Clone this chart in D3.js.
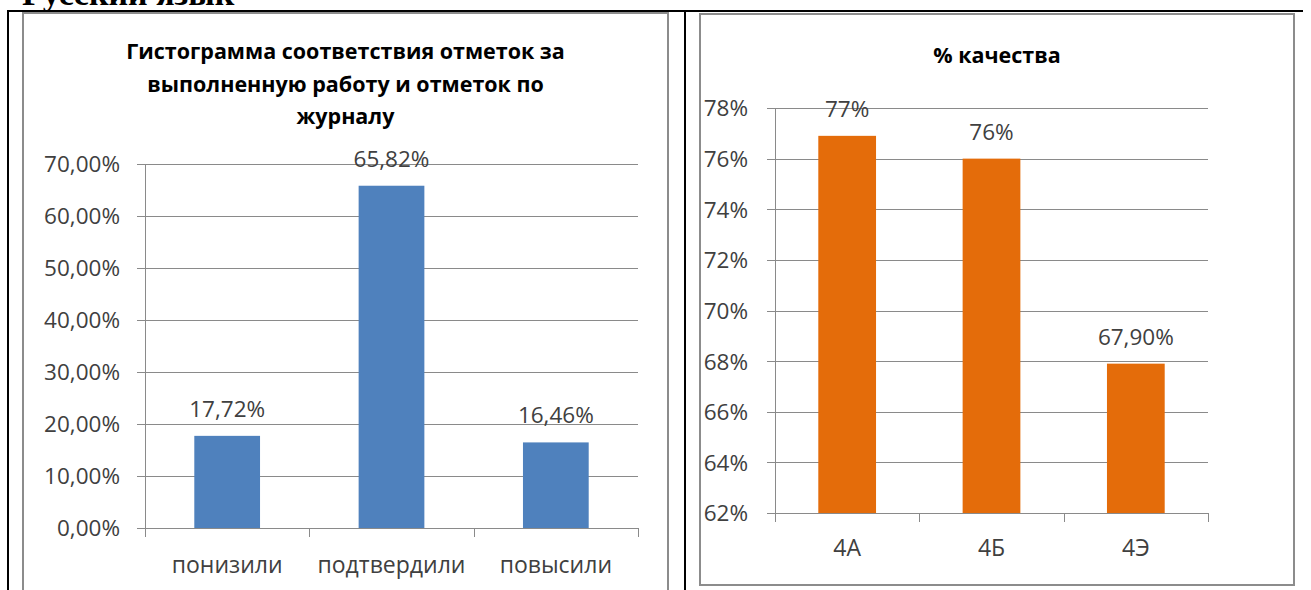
<!DOCTYPE html>
<html>
<head>
<meta charset="utf-8">
<script src="https://cdn.jsdelivr.net/npm/d3@7"></script>
<style>
  body { margin: 0; background: #fff; }
  svg { display: block; }
  .tick-label, .cat-label, .data-label { font-family: "Open Sans", sans-serif; font-size: 22.5px; fill: #404040; }
  .cat-label { font-size: 23px; }
  .chart-title { font-family: "Open Sans", sans-serif; font-size: 21.5px; font-weight: bold; fill: #000; }
  .page-title { font-family: "Liberation Serif", serif; font-size: 34px; font-weight: bold; fill: #000; }
</style>
</head>
<body>
<script>
"use strict";

// left chart
var leftTitle = ["Гистограмма соответствия отметок за", "выполненную работу и отметок по", "журналу"];
var leftCategories = ["понизили", "подтвердили", "повысили"];
var leftValues = [0.1772, 0.6582, 0.1646];
var leftTicks = [0, 0.1, 0.2, 0.3, 0.4, 0.5, 0.6, 0.7];

// right chart
var rightTitle = ["% качества"];
var rightCategories = ["4А", "4Б", "4Э"];
var rightValues = [0.769, 0.76, 0.679];
var rightLabels = ["77%", "76%", "67,90%"];
var rightTicks = [0.62, 0.64, 0.66, 0.68, 0.70, 0.72, 0.74, 0.76, 0.78];

var ru = d3.formatLocale({decimal: ",", thousands: " ", grouping: [3], currency: ["", " ₽"]});

var svg = d3.select("body").append("svg")
  .attr("width", 1311)
  .attr("height", 590);

svg.append("rect").attr("width", 1311).attr("height", 590).attr("fill", "#fff");

// heading, cut by the top edge as in the scan
svg.append("text")
  .classed("page-title", true)
  .attr("x", 22)
  .attr("y", 5)
  .text("Русский язык");

// table borders
svg.append("line").attr("x1", 7).attr("x2", 1303).attr("y1", 11).attr("y2", 11)
  .attr("stroke", "#000").attr("stroke-width", 2);
svg.append("line").attr("x1", 8).attr("x2", 8).attr("y1", 10).attr("y2", 590)
  .attr("stroke", "#000").attr("stroke-width", 2);
svg.append("line").attr("x1", 685).attr("x2", 685).attr("y1", 10).attr("y2", 590)
  .attr("stroke", "#000").attr("stroke-width", 2);

function drawChart(opt) {
  var g = svg.append("g");

  g.append("rect")
    .attr("x", opt.frame[0]).attr("y", opt.frame[1])
    .attr("width", opt.frame[2]).attr("height", opt.frame[3])
    .attr("fill", "#fff").attr("stroke", "#8c8c8c").attr("stroke-width", 2);

  var y = d3.scaleLinear().domain(opt.yDomain).range([opt.bottom, opt.top]);
  var x = d3.scaleBand().domain(opt.categories).range([opt.left, opt.right]).padding(0);
  var barW = x.bandwidth() * 0.4;

  // gridlines + left tick marks
  g.selectAll(".grid").data(opt.ticks).enter().append("line")
    .attr("x1", opt.left - 8).attr("x2", opt.right)
    .attr("y1", function(d) { return Math.round(y(d)) + 0.5; })
    .attr("y2", function(d) { return Math.round(y(d)) + 0.5; })
    .attr("stroke", "#8a8a8a").attr("stroke-width", 1);

  // y axis
  var yAxis = d3.axisLeft(y).tickValues(opt.ticks).tickFormat(opt.tickFormat).tickSize(0).tickPadding(opt.labelGap);
  var ya = g.append("g").attr("transform", "translate(" + opt.left + ",0)").call(yAxis);
  ya.select(".domain").remove();
  ya.selectAll("text").attr("class", "tick-label").attr("fill", null).attr("dy", "0.35em");
  ya.attr("font-size", null).attr("font-family", null);

  g.append("line")
    .attr("x1", opt.left + 0.5).attr("x2", opt.left + 0.5)
    .attr("y1", opt.top).attr("y2", opt.bottom + 9)
    .attr("stroke", "#8a8a8a").attr("stroke-width", 1);

  // bars
  g.selectAll(".bar").data(opt.values).enter().append("rect")
    .attr("x", function(d, i) { return x(opt.categories[i]) + (x.bandwidth() - barW) / 2; })
    .attr("y", function(d) { return y(d); })
    .attr("width", barW)
    .attr("height", function(d) { return opt.bottom - y(d); })
    .attr("fill", opt.color);

  // x axis baseline and boundary ticks
  g.append("line")
    .attr("x1", opt.left - 8).attr("x2", opt.right)
    .attr("y1", opt.bottom + 0.5).attr("y2", opt.bottom + 0.5)
    .attr("stroke", "#8a8a8a").attr("stroke-width", 1);
  var bounds = opt.categories.map(function(c) { return x(c); }).concat([opt.right]);
  g.selectAll(".xtick").data(bounds).enter().append("line")
    .attr("x1", function(d) { return Math.round(d) + 0.5; })
    .attr("x2", function(d) { return Math.round(d) + 0.5; })
    .attr("y1", opt.bottom).attr("y2", opt.bottom + 9)
    .attr("stroke", "#8a8a8a").attr("stroke-width", 1);

  // category labels
  g.selectAll(".cat").data(opt.categories).enter().append("text")
    .classed("cat-label", true)
    .attr("x", function(d) { return x(d) + x.bandwidth() / 2; })
    .attr("y", opt.catY)
    .attr("text-anchor", "middle")
    .text(function(d) { return d; });

  // value labels
  g.selectAll(".val").data(opt.values).enter().append("text")
    .classed("data-label", true)
    .attr("x", function(d, i) { return x(opt.categories[i]) + x.bandwidth() / 2; })
    .attr("y", function(d) { return y(d) - 19; })
    .attr("text-anchor", "middle")
    .text(function(d, i) { return opt.labels[i]; });

  // title
  g.selectAll(".title").data(opt.title).enter().append("text")
    .classed("chart-title", true)
    .attr("x", opt.frame[0] + opt.frame[2] / 2)
    .attr("y", function(d, i) { return opt.titleY + i * 32.5; })
    .attr("text-anchor", "middle")
    .text(function(d) { return d; });
}

drawChart({
  frame: [23, 13, 645, 600],
  title: leftTitle,
  titleY: 59,
  categories: leftCategories,
  values: leftValues,
  labels: leftValues.map(ru.format(".2%")),
  ticks: leftTicks,
  tickFormat: ru.format(".2%"),
  yDomain: [0, 0.7],
  left: 145, right: 638, top: 164, bottom: 528,
  labelGap: 25,
  catY: 573,
  color: "#4F81BD"
});

drawChart({
  frame: [700, 14, 594, 571],
  title: rightTitle,
  titleY: 63,
  categories: rightCategories,
  values: rightValues,
  labels: rightLabels,
  ticks: rightTicks,
  tickFormat: ru.format(".0%"),
  yDomain: [0.62, 0.78],
  left: 775, right: 1208, top: 108, bottom: 513,
  labelGap: 27,
  catY: 556,
  color: "#E46C0A"
});
</script>
</body>
</html>
